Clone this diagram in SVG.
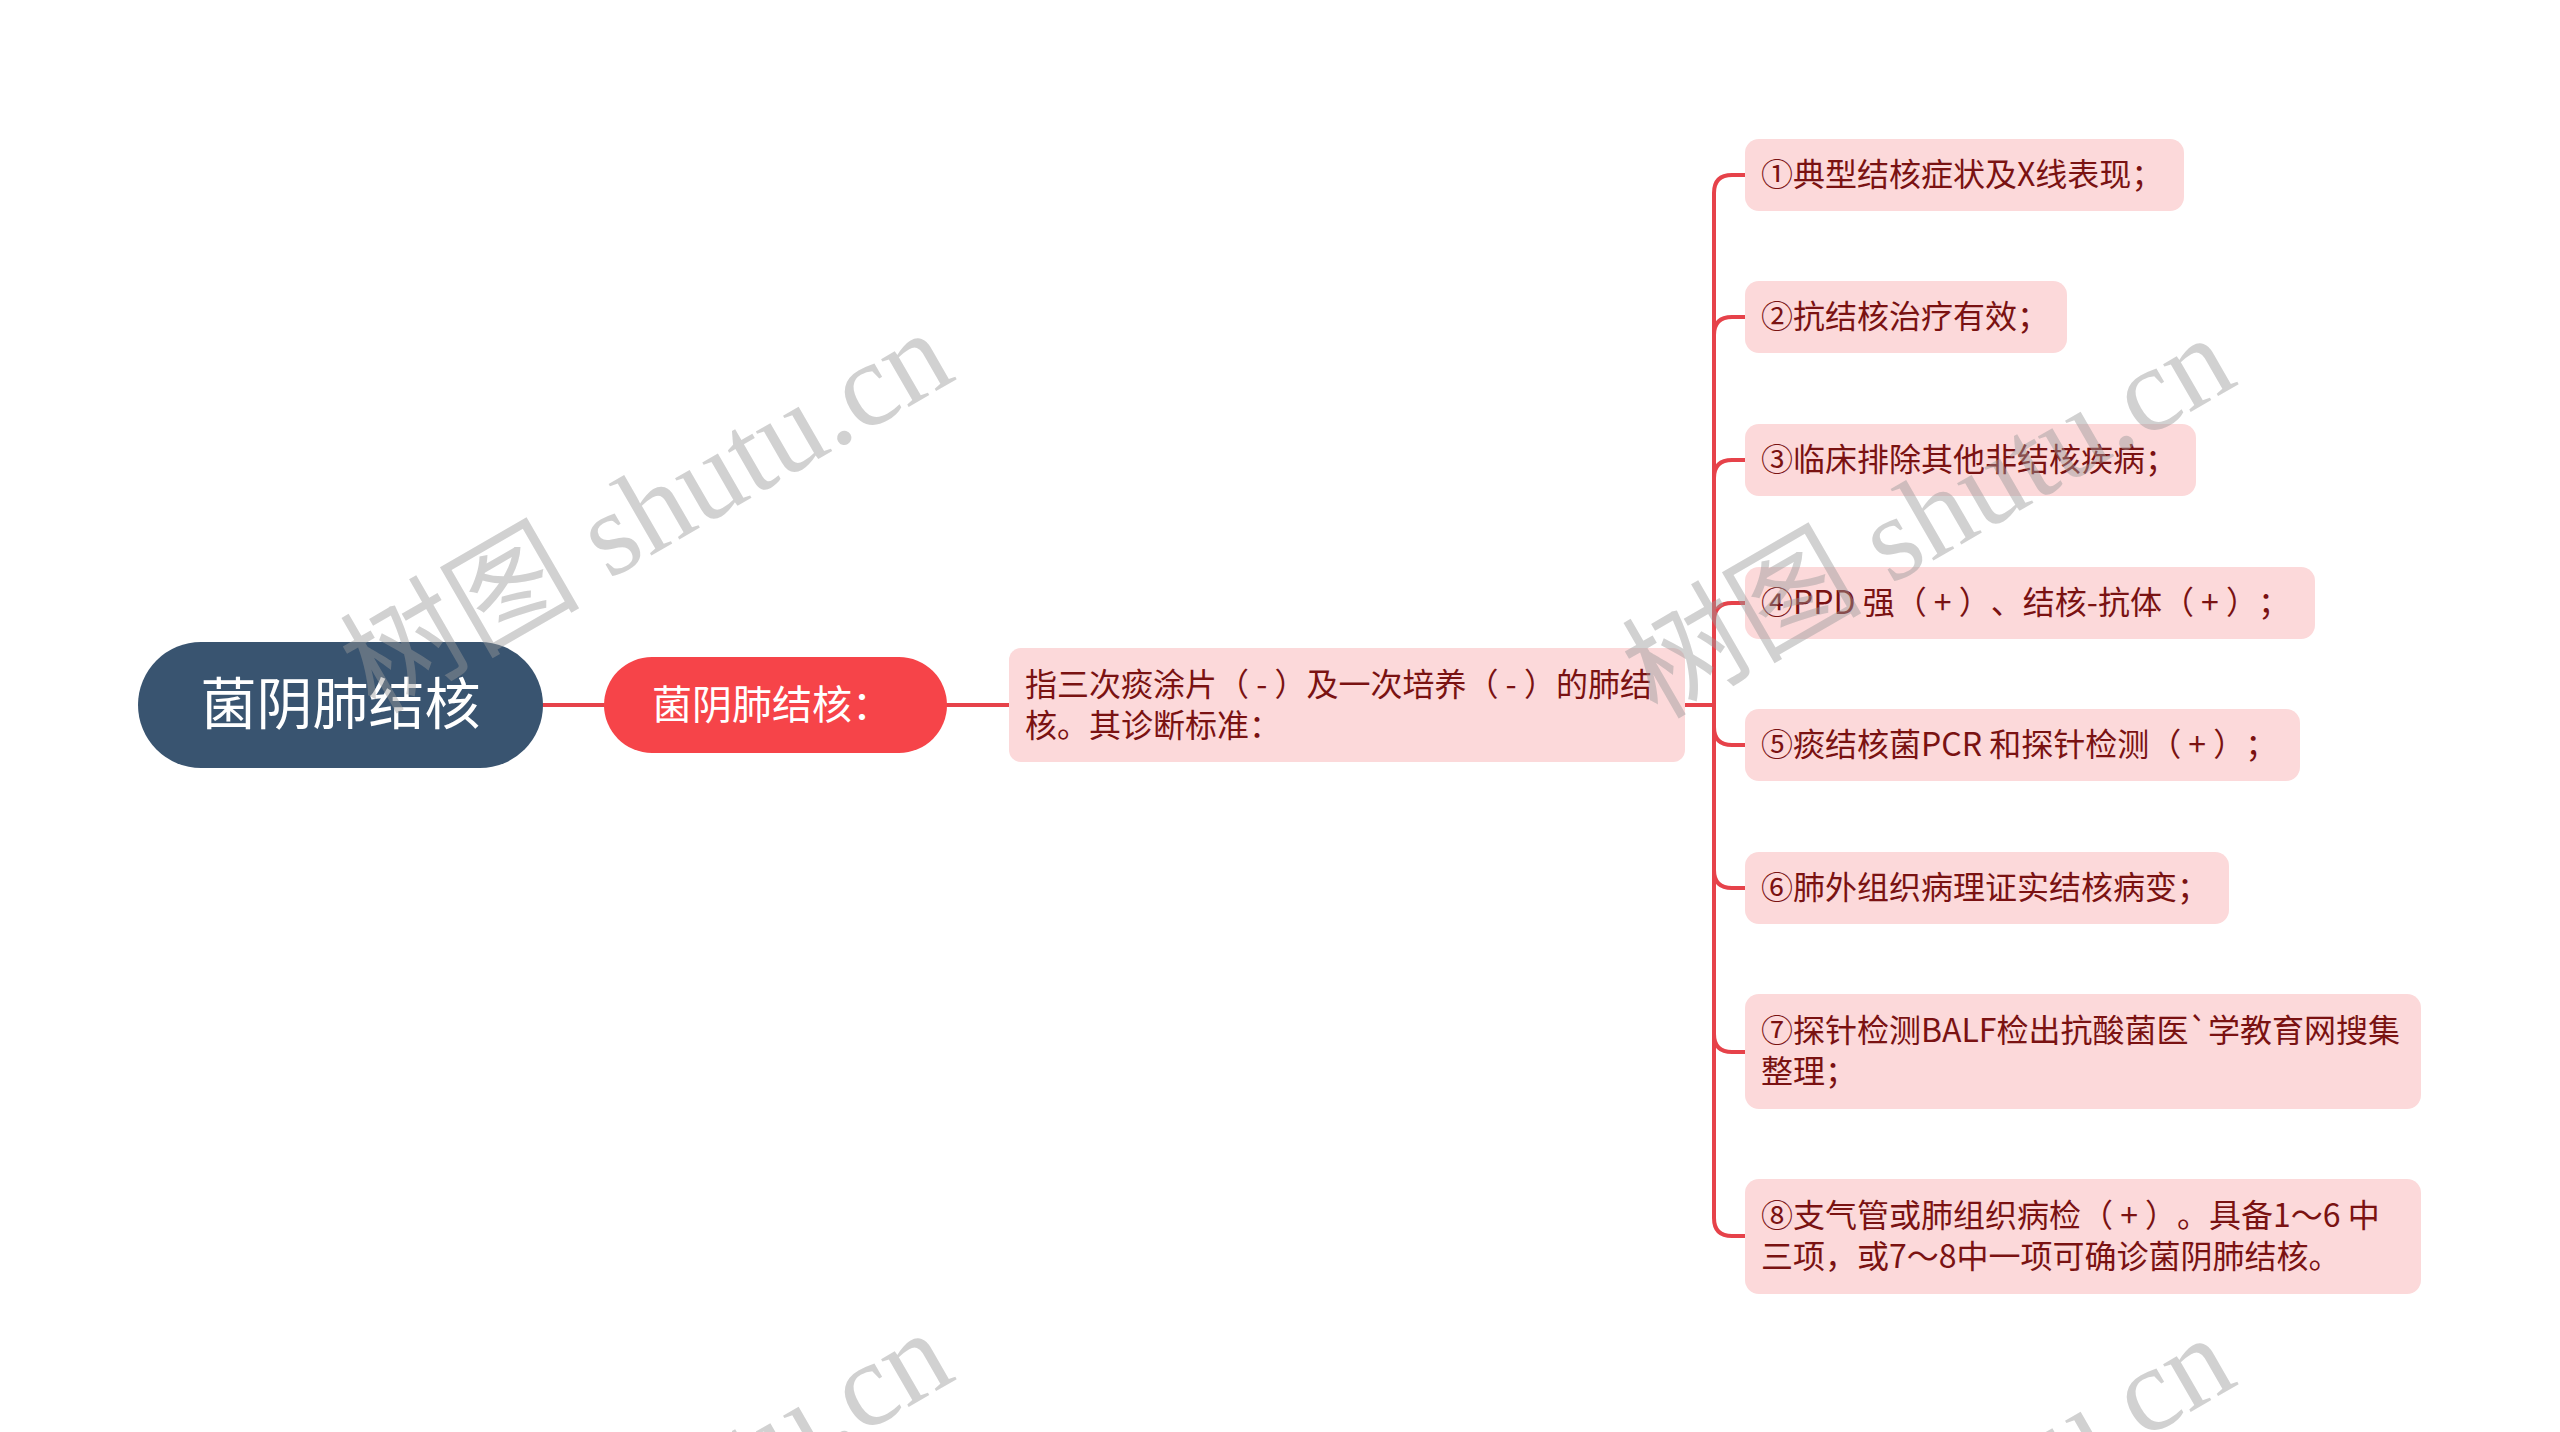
<svg xmlns="http://www.w3.org/2000/svg" width="2560" height="1432" viewBox="0 0 2560 1432">
<style>
text{text-spacing-trim:space-all}
.conn{fill:none;stroke:#e6424a;stroke-width:4;stroke-linecap:round}
.leaf rect{fill:#fcd9da}
.leaf text,.desc text{font-family:"Noto Sans CJK SC","Noto Sans",sans-serif;font-size:32px;fill:#7a1212;white-space:pre}
.wm{font-family:"Liberation Serif","Noto Sans CJK SC",serif;font-size:120px;fill:#9a9a9a;fill-opacity:0.45}
</style>
<rect width="2560" height="1432" fill="#ffffff"/>
<g id="connectors">
<path class="conn" d="M543 705 H604"/>
<path class="conn" d="M947 705 H1009"/>
<path class="conn" d="M1685 705 H1714"/>
<path class="conn" d="M1714 705 V193 Q1714 175 1732 175 H1745"/>
<path class="conn" d="M1714 705 V335 Q1714 317 1732 317 H1745"/>
<path class="conn" d="M1714 705 V478 Q1714 460 1732 460 H1745"/>
<path class="conn" d="M1714 705 V621 Q1714 603 1732 603 H1745"/>
<path class="conn" d="M1714 705 V727 Q1714 745 1732 745 H1745"/>
<path class="conn" d="M1714 705 V870 Q1714 888 1732 888 H1745"/>
<path class="conn" d="M1714 705 V1034 Q1714 1052 1732 1052 H1745"/>
<path class="conn" d="M1714 705 V1218 Q1714 1236 1732 1236 H1745"/>
</g>
<g id="root">
<rect x="138" y="642" width="405" height="126" rx="63" fill="#395470"/>
<text x="340.5" y="724" text-anchor="middle" font-family="Noto Sans CJK SC, sans-serif" font-size="56" fill="#ffffff">菌阴肺结核</text>
</g>
<g id="sub">
<rect x="604" y="657" width="343" height="96" rx="48" fill="#f64449"/>
<text x="652" y="719" font-family="Noto Sans CJK SC, sans-serif" font-size="40" fill="#ffffff">菌阴肺结核：</text>
</g>
<g id="desc" class="desc">
<rect x="1009" y="648" width="676" height="114" rx="12" fill="#fcd9da"/>
<text x="1025" y="696">指三次痰涂片（ - ）及一次培养（ - ）的肺结</text>
<text x="1025" y="737">核。其诊断标准：</text>
</g>
<g id="n1" class="leaf"><rect x="1745" y="139" width="439" height="72" rx="14"/><text x="1761" y="186">①典型结核症状及X线表现；</text></g>
<g id="n2" class="leaf"><rect x="1745" y="281" width="322" height="72" rx="14"/><text x="1761" y="328">②抗结核治疗有效；</text></g>
<g id="n3" class="leaf"><rect x="1745" y="424" width="451" height="72" rx="14"/><text x="1761" y="471">③临床排除其他非结核疾病；</text></g>
<g id="n4" class="leaf"><rect x="1745" y="567" width="570" height="72" rx="14"/><text x="1761" y="614">④PPD 强（ + ）、结核-抗体（ + ）；</text></g>
<g id="n5" class="leaf"><rect x="1745" y="709" width="555" height="72" rx="14"/><text x="1761" y="756">⑤痰结核菌PCR 和探针检测（ + ）；</text></g>
<g id="n6" class="leaf"><rect x="1745" y="852" width="484" height="72" rx="14"/><text x="1761" y="899">⑥肺外组织病理证实结核病变；</text></g>
<g id="n7" class="leaf"><rect x="1745" y="994" width="676" height="115" rx="14"/><text x="1761" y="1042">⑦探针检测BALF检出抗酸菌医`学教育网搜集</text><text x="1761" y="1083">整理；</text></g>
<g id="n8" class="leaf"><rect x="1745" y="1179" width="676" height="115" rx="14"/><text x="1761" y="1227">⑧支气管或肺组织病检（ + ）。具备1～6 中</text><text x="1761" y="1268">三项，或7～8中一项可确诊菌阴肺结核。</text></g>
<g id="watermarks">
<text class="wm" transform="translate(375 715) rotate(-30)">树图 shutu.cn</text>
<text class="wm" transform="translate(1657 720) rotate(-30)">树图 shutu.cn</text>
<text class="wm" transform="translate(375 1715) rotate(-30)">树图 shutu.cn</text>
<text class="wm" transform="translate(1657 1720) rotate(-30)">树图 shutu.cn</text>
</g>
</svg>
